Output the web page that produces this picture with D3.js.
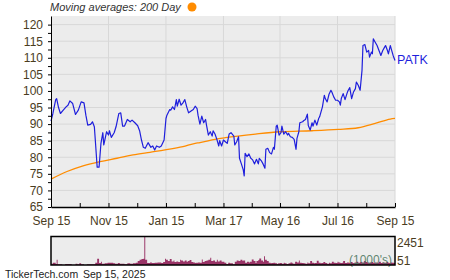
<!DOCTYPE html>
<html>
<head>
<meta charset="utf-8">
<script src="https://cdn.jsdelivr.net/npm/d3@7.9.0/dist/d3.min.js"></script>
<style>
  html, body { margin: 0; padding: 0; background: #fff; }
  svg { display: block; font-family: "Liberation Sans", Arial, sans-serif; }
</style>
</head>
<body>
<svg id="chart" width="450" height="280"></svg>
<script>
// days after Sep 15, 2024 and closing prices (PATK)
const priceDays = [0,2,5,6,8,10,13,16,18,20,23,26,29,32,35,37,39,42,44,46,47,49,51,53,55,56,59,61,62,64,67,69,72,74,76,78,81,84,86,89,92,94,96,98,100,103,106,108,110,112,115,117,120,122,123,126,127,129,131,133,134,136,138,140,142,144,146,149,151,153,155,156,158,160,162,164,165,167,169,171,172,174,176,178,179,181,183,185,187,189,191,194,195,197,199,200,202,204,205,206,208,210,212,214,216,218,220,221,223,225,227,228,230,232,234,236,237,239,240,242,244,245,247,249,251,252,254,256,258,260,261,263,264,267,268,270,272,273,275,277,278,280,282,284,285,288,290,291,293,295,297,298,300,302,304,306,307,308,310,312,314,315,317,319,321,323,324,326,328,330,331,333,335,337,338,340,341,342,344,346,348,350,352,354,355,357,358,360,361,363,365];
const priceValues = [90.9,93.2,97.4,97.7,95,93.2,94.2,95.2,95.7,97,96.2,92.9,94.2,96.7,96.4,92.7,89.7,89.9,90.7,89.2,85.2,77,77,84.2,87.4,83.7,87.7,86.7,88,86,87.4,89.2,93.2,93.4,89.4,89.4,91.4,90.7,91.2,90.4,89.5,88,85.2,83,82.7,84.4,83,83.4,82.2,83.4,83,83.4,85.2,91.7,92.7,94.4,94.2,95.2,94.4,97.4,95.4,97.5,95.7,96.4,97.4,95.2,93.4,94,94.4,95.4,94.7,92.7,90,92.4,90.4,91.4,89.7,86.7,87.7,86.4,88,87,85.4,83.4,85,83.4,85.2,84.7,84.2,87,87.4,86.4,83.7,84.7,86.2,79.7,78,76.2,74.4,81.2,80.2,81,79.7,79.2,78,79.4,78,79.7,79,78,76.7,82.4,82.7,81.4,81,83,82.4,89.4,89.7,86.7,87.4,89.4,87,87.7,86.7,87.2,86.2,86,85.4,82.4,85.7,87.7,90.4,90.7,91,91.4,93,89.6,88.2,90.4,89.4,91.2,89.7,91.7,92.2,95.2,98.7,97.7,96.7,99,100.2,99.7,98.2,97.2,97.2,96.7,95.7,97.7,99.2,97.4,99.2,100,101,97.7,99.7,100.7,102.7,101.7,100.2,106.2,113.7,114,111.7,112.2,110.2,111.7,111.2,115.7,114.7,113.7,112.2,110.7,112.2,113.2,113.7,112.2,111.2,113.7,112.7,110.7,109.2];

// 200 day moving average
const maDays = [0,17,34,52,70,87,105,121,140,153,158,174,185,217,243,277,305,326,344,360,365];
const maValues = [73.4,75.7,77.4,78.7,79.7,80.7,81.5,82.2,83.2,84.2,84.4,85.4,85.9,87,87.7,88,88.4,88.9,90.2,91.5,91.7];

// volume (1000's)
const volDays = [0,2,5,6,7,10,12,15,18,21,22,25,26,28,30,32,35,38,41,45,47,49,51,53,54,57,60,62,66,68,71,73,75,78,81,84,87,90,92,94,96,98,99,100,102,105,107,110,113,115,117,119,121,122,124,126,128,130,131,133,135,137,138,140,142,144,145,147,149,151,153,154,156,158,160,161,163,165,167,169,170,172,174,176,177,179,181,184,186,188,190,193,195,197,199,201,203,204,206,208,210,211,213,215,217,218,220,221,223,225,226,227,229,231,233,234,236,238,240,241,243,245,247,248,250,252,254,256,257,259,261,263,264,266,268,270,272,273,275,277,279,280,282,284,286,287,289,291,293,295,296,298,300,302,304,305,307,309,310,312,314,316,318,320,322,324,326,328,330,332,334,336,338,340,342,344,346,348,350,352,354,356,358,360,362,364,365];
const volValues = [163,247,135,499,107,107,51,135,135,135,51,51,163,107,191,107,51,107,107,107,247,583,219,331,163,191,247,247,191,163,219,163,163,107,191,163,191,247,387,499,555,583,2451,499,219,275,219,247,275,275,219,303,583,499,387,555,359,443,303,359,303,499,443,359,443,303,387,471,303,275,219,247,275,247,527,303,387,443,499,667,387,443,331,499,359,443,331,247,135,247,191,107,331,443,387,499,415,443,247,331,275,331,527,387,219,387,471,611,443,331,807,499,387,247,191,219,247,191,135,191,219,163,247,191,135,191,275,191,163,331,275,443,247,219,191,163,275,191,387,247,191,219,415,247,191,219,303,219,163,247,191,331,247,219,331,275,219,247,387,219,275,247,303,219,275,331,247,303,275,387,303,247,275,303,219,275,247,331,219,275,247,303,219,275,247,219,219];

const tickDates = ['2024-09-15','2024-11-15','2025-01-15','2025-03-17','2025-05-16','2025-07-16','2025-09-15'];
const tickLabels = ['Sep 15','Nov 15','Jan 15','Mar 17','May 16','Jul 16','Sep 15'];
const yLabels = [65,70,75,80,85,90,95,100,105,110,115,120];

const start = new Date(Date.UTC(2024, 8, 15));
const toDate = (d) => d3.utcDay.offset(start, d);
const labelColor = '#4a3c1e';

const svg = d3.select('#chart');

const x = d3.scaleUtc()
  .domain([start, new Date(Date.UTC(2025, 8, 15))])
  .range([51, 395]);
const y = d3.scaleLinear().domain([65, 122.6]).range([207, 16]);

// plot background + grid
svg.append('rect')
  .attr('x', 51).attr('y', 16)
  .attr('width', 344).attr('height', 191)
  .attr('fill', '#ececec');

const majors = tickDates.map((s) => new Date(s + 'T00:00:00Z'));
let minors = [];
for (let i = 0; i < majors.length - 1; i++) {
  minors.push(new Date((+majors[i] + +majors[i + 1]) / 2));
}

svg.append('g')
  .selectAll('line.h')
  .data(yLabels.filter((v) => v > 65))
  .join('line')
  .attr('x1', 51).attr('x2', 395)
  .attr('y1', (d) => y(d)).attr('y2', (d) => y(d))
  .attr('stroke', '#d8d8d8');

svg.append('g')
  .selectAll('line.v')
  .data(majors.slice(1))
  .join('line')
  .attr('x1', (d) => x(d)).attr('x2', (d) => x(d))
  .attr('y1', 16).attr('y2', 207)
  .attr('stroke', '#d8d8d8');

// lines
const maLine = d3.line()
  .x((d, i) => x(toDate(maDays[i])))
  .y((d) => y(d))
  .curve(d3.curveMonotoneX);

svg.append('path')
  .attr('d', maLine(maValues))
  .attr('fill', 'none')
  .attr('stroke', '#ff8c00')
  .attr('stroke-width', 1.3);

const priceLine = d3.line()
  .x((d, i) => x(toDate(priceDays[i])))
  .y((d) => y(d));

svg.append('path')
  .attr('d', priceLine(priceValues))
  .attr('fill', 'none')
  .attr('stroke', '#1f1fdc')
  .attr('stroke-width', 1.2)
  .attr('stroke-linejoin', 'round');

// axes
let yTicks = d3.range(65, 120.1, 2.5);
const yAxis = d3.axisLeft(y)
  .tickValues(yTicks)
  .tickSize(3)
  .tickSizeOuter(0)
  .tickPadding(5)
  .tickFormat((d) => (d % 5 === 0 ? d : ''));

svg.append('g')
  .attr('transform', 'translate(51,0)')
  .call(yAxis)
  .call((g) => g.selectAll('text').attr('fill', labelColor).style('font-size', '12px').style('font-family', 'Liberation Sans, Arial'));

const xAxis = d3.axisBottom(x)
  .tickValues(majors.concat(minors))
  .tickSize(-4)
  .tickSizeOuter(0)
  .tickPadding(9)
  .tickFormat((d) => {
    let idx = majors.findIndex((m) => +m === +d);
    return idx >= 0 ? tickLabels[idx] : '';
  });

svg.append('g')
  .attr('transform', 'translate(0,207)')
  .call(xAxis)
  .call((g) => g.select('.domain').attr('stroke-width', 1.5))
  .call((g) => g.selectAll('text').attr('fill', labelColor).style('font-size', '12px').style('font-family', 'Liberation Sans, Arial'));

// legend + label
svg.append('text')
  .attr('x', 50).attr('y', 11)
  .attr('font-size', 11)
  .attr('font-style', 'italic')
  .attr('fill', '#333')
  .text('Moving averages: 200 Day');

svg.append('circle')
  .attr('cx', 192).attr('cy', 7).attr('r', 4.5)
  .attr('fill', '#ff8c00');

svg.append('text')
  .attr('x', 397)
  .attr('y', y(priceValues[priceValues.length - 1]) + 4)
  .attr('font-size', 12.5)
  .attr('fill', '#1f1fdc')
  .text('PATK');

// volume panel
const vy = d3.scaleLinear().domain([51, 2451]).range([265, 237]);

svg.append('rect')
  .attr('x', 51).attr('y', 236.5)
  .attr('width', 344).attr('height', 28.5)
  .attr('fill', '#ececec');

const volArea = d3.area()
  .x((d, i) => x(toDate(volDays[i])))
  .y0(265)
  .y1((d) => vy(d))
  .curve(d3.curveStepAfter);

svg.append('path')
  .attr('d', volArea(volValues))
  .attr('fill', '#993366');

svg.append('text')
  .attr('x', 392).attr('y', 264)
  .attr('text-anchor', 'end')
  .attr('font-size', 12)
  .attr('fill', '#4e7862')
  .attr('fill-opacity', 0.9)
  .text("(1000's)");

svg.append('rect')
  .attr('x', 51).attr('y', 236.5)
  .attr('width', 344).attr('height', 28.5)
  .attr('fill', 'none')
  .attr('stroke', '#000')
  .attr('stroke-width', 1.5);

svg.append('text')
  .attr('x', 397).attr('y', 247)
  .attr('font-size', 12).attr('fill', labelColor)
  .text('2451');

svg.append('text')
  .attr('x', 397).attr('y', 265)
  .attr('font-size', 12).attr('fill', labelColor)
  .text('51');

svg.append('text')
  .attr('x', 5).attr('y', 278)
  .attr('font-size', 10.5).attr('fill', '#222')
  .text('TickerTech.com');

svg.append('text')
  .attr('x', 83).attr('y', 278)
  .attr('font-size', 10.5).attr('fill', '#222')
  .text('Sep 15, 2025');
</script>
</body>
</html>
